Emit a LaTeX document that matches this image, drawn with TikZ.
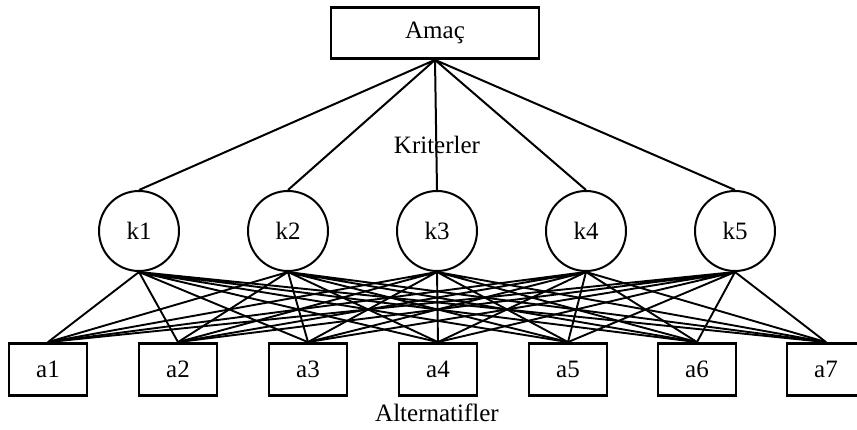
\documentclass[tikz,border=0pt]{standalone}
\usepackage{fontspec}
\setmainfont{Liberation Serif}

\begin{document}
\begin{tikzpicture}[x=1pt,y=1pt]

		\tikzset{goal/.style={draw,line width=2.8pt,minimum width=208pt,minimum height=51pt,inner sep=0pt},
		         crit/.style={draw,circle,line width=2pt,minimum size=80pt,inner sep=0pt},
		         alt/.style={draw,line width=2.8pt,minimum width=78pt,minimum height=52pt,inner sep=0pt},
		         every node/.style={font=\fontsize{25}{30}\selectfont}}
	    \useasboundingbox (0,0) rectangle (857,430);

	    \node[goal] (amac) at (435,397) {Ama\c{c}};
	    \node (kr) at (437,285) {Kriterler};

	    \node[crit] (k1) at (139,199) {k1};
	    \node[crit] (k2) at (288,199) {k2};
	    \node[crit] (k3) at (437,199) {k3};
	    \node[crit] (k4) at (586,199) {k4};
	    \node[crit] (k5) at (735,199) {k5};

	    \node[alt] (a1) at (48,60.5) {a1};
	    \node[alt] (a2) at (178,60.5) {a2};
	    \node[alt] (a3) at (308,60.5) {a3};
	    \node[alt] (a4) at (438,60.5) {a4};
	    \node[alt] (a5) at (568,60.5) {a5};
	    \node[alt] (a6) at (697,60.5) {a6};
	    \node[alt] (a7) at (826,60.5) {a7};
	    \node (al) at (437,17) {Alternatifler};

	    \draw[line width=2pt] (amac.south) -- (k1.north) (amac.south) -- (k2.north)
	        (amac.south) -- (k3.north) (amac.south) -- (k4.north) (amac.south) -- (k5.north);

	    \draw[line width=1.9pt] (k1.south) -- (a1.north) (k1.south) -- (a2.north) (k1.south) -- (a3.north)
	        (k1.south) -- (a4.north) (k1.south) -- (a5.north) (k1.south) -- (a6.north) (k1.south) -- (a7.north);
	    \draw[line width=1.9pt] (k2.south) -- (a1.north) (k2.south) -- (a2.north) (k2.south) -- (a3.north)
	        (k2.south) -- (a4.north) (k2.south) -- (a5.north) (k2.south) -- (a6.north) (k2.south) -- (a7.north);
	    \draw[line width=1.9pt] (k3.south) -- (a1.north) (k3.south) -- (a2.north) (k3.south) -- (a3.north)
	        (k3.south) -- (a4.north) (k3.south) -- (a5.north) (k3.south) -- (a6.north) (k3.south) -- (a7.north);
	    \draw[line width=1.9pt] (k4.south) -- (a1.north) (k4.south) -- (a2.north) (k4.south) -- (a3.north)
	        (k4.south) -- (a4.north) (k4.south) -- (a5.north) (k4.south) -- (a6.north) (k4.south) -- (a7.north);
	    \draw[line width=1.9pt] (k5.south) -- (a1.north) (k5.south) -- (a2.north) (k5.south) -- (a3.north)
	        (k5.south) -- (a4.north) (k5.south) -- (a5.north) (k5.south) -- (a6.north) (k5.south) -- (a7.north);

	\end{tikzpicture}
\end{document}
